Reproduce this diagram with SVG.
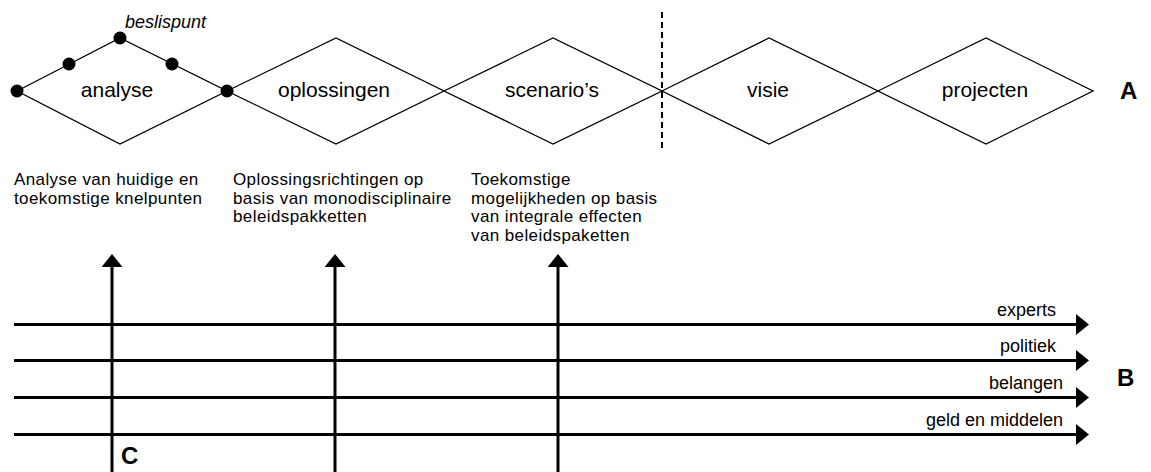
<svg xmlns="http://www.w3.org/2000/svg" width="1151" height="472" viewBox="0 0 1151 472">
<style>
text{font-family:"Liberation Sans",Arial,sans-serif;fill:#000}
.lbl{font-size:21px;text-anchor:middle}
.desc{font-size:17px;letter-spacing:0.4px}
.line{font-size:18px;text-anchor:end}
.big{font-size:24px;font-weight:bold}
.dia{fill:none;stroke:#000;stroke-width:1.3;stroke-linejoin:miter}
.arr{stroke:#000;stroke-width:3;fill:none}
</style>
<defs>
<marker id="ah" markerUnits="userSpaceOnUse" viewBox="0 0 13 21" refX="1" refY="10.5" markerWidth="13" markerHeight="21" orient="auto">
<path d="M0,0 L13,10.5 L0,21 z" fill="#000"/>
</marker>
</defs>
<rect width="1151" height="472" fill="#fff"/>
<g id="analyse">
<polygon class="dia" points="17,91 120,38 227,91 120,144"/>
<text class="lbl" x="117" y="97">analyse</text>
</g>
<g id="oplossingen">
<polygon class="dia" points="227,91 336,38 444,91 336,144"/>
<text class="lbl" x="334" y="97">oplossingen</text>
</g>
<g id="scenarios">
<polygon class="dia" points="444,91 553,38 662,91 553,144"/>
<text class="lbl" x="552" y="97">scenario’s</text>
</g>
<g id="visie">
<polygon class="dia" points="662,91 769,38 878,91 769,144"/>
<text class="lbl" x="768" y="97">visie</text>
</g>
<g id="projecten">
<polygon class="dia" points="878,91 986,38 1093,91 986,144"/>
<text class="lbl" x="985" y="97">projecten</text>
</g>
<g id="beslispunten">
<circle cx="17" cy="91" r="6.5"/>
<circle cx="69" cy="64" r="6.5"/>
<circle cx="120" cy="38" r="6.5"/>
<circle cx="172" cy="64" r="6.5"/>
<circle cx="227" cy="91" r="6.5"/>
<text x="125" y="28" font-size="18" font-style="italic">beslispunt</text>
</g>
<g id="divider">
<line x1="662" y1="12" x2="662" y2="150" stroke="#000" stroke-width="2" stroke-dasharray="6 4"/>
</g>
<g id="label-A"><text class="big" x="1120" y="99">A</text></g>
<g id="desc-analyse">
<text class="desc" x="14" y="185">Analyse van huidige en</text>
<text class="desc" x="14" y="203.5">toekomstige knelpunten</text>
</g>
<g id="desc-oplossingen">
<text class="desc" x="233" y="185">Oplossingsrichtingen op</text>
<text class="desc" x="233" y="203.5">basis van monodisciplinaire</text>
<text class="desc" x="233" y="222">beleidspakketten</text>
</g>
<g id="desc-scenarios">
<text class="desc" x="471" y="185">Toekomstige</text>
<text class="desc" x="471" y="203.5">mogelijkheden op basis</text>
<text class="desc" x="471" y="222">van integrale effecten</text>
<text class="desc" x="471" y="240.5">van beleidspaketten</text>
</g>
<g id="connectors">
<line class="arr" x1="14" y1="324.5" x2="1077" y2="324.5" marker-end="url(#ah)"/>
<line class="arr" x1="14" y1="360.5" x2="1077" y2="360.5" marker-end="url(#ah)"/>
<line class="arr" x1="14" y1="397.5" x2="1077" y2="397.5" marker-end="url(#ah)"/>
<line class="arr" x1="14" y1="434.5" x2="1077" y2="434.5" marker-end="url(#ah)"/>
<line class="arr" x1="112" y1="472" x2="112" y2="266" marker-end="url(#ah)"/>
<line class="arr" x1="335" y1="472" x2="335" y2="266" marker-end="url(#ah)"/>
<line class="arr" x1="558" y1="472" x2="558" y2="266" marker-end="url(#ah)"/>
</g>
<g id="line-labels">
<text class="line" x="1056" y="316">experts</text>
<text class="line" x="1056" y="352">politiek</text>
<text class="line" x="1063" y="389">belangen</text>
<text class="line" x="1063" y="426">geld en middelen</text>
</g>
<g id="label-B"><text class="big" x="1117" y="386">B</text></g>
<g id="label-C"><text class="big" x="121" y="464">C</text></g>
</svg>
